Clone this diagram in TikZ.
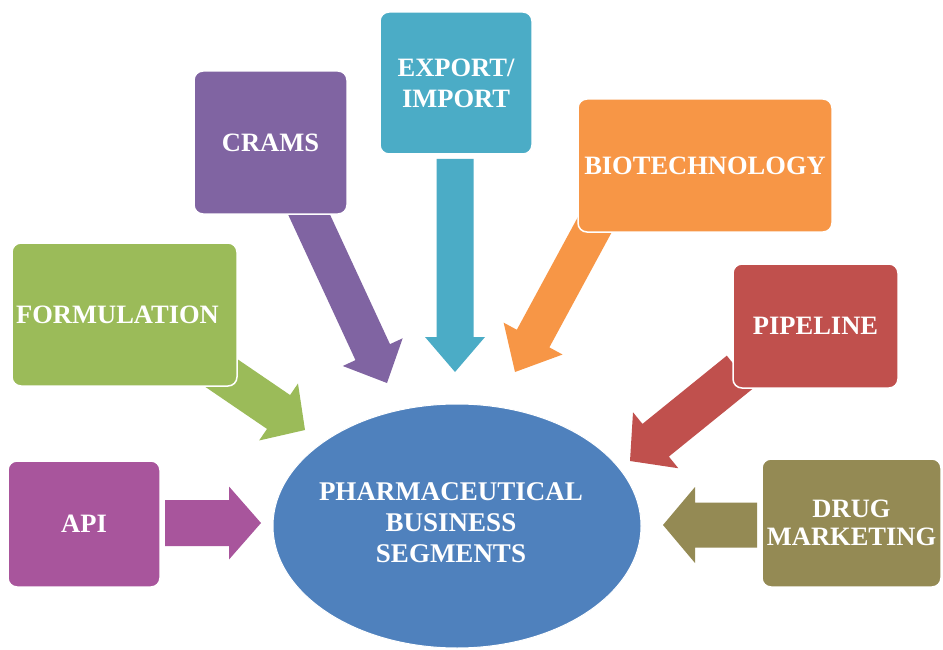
\documentclass[tikz,border=0pt]{standalone}
\usepackage{fontspec}
\setmainfont{Liberation Serif}
\usetikzlibrary{calc,shapes.geometric}
\definecolor{capi}{HTML}{A8559C}
\definecolor{cform}{HTML}{9BBB59}
\definecolor{ccrams}{HTML}{8064A2}
\definecolor{cexp}{HTML}{4BACC6}
\definecolor{cbio}{HTML}{F79646}
\definecolor{cpipe}{HTML}{C0504D}
\definecolor{cdrug}{HTML}{948A54}
\definecolor{chub}{HTML}{4F81BD}
% #1 tail, #2 tip, #3 shaft half width, #4 head half width, #5 head length, #6 colour
\newcommand\fatarrow[6]{%
  \coordinate (#1#2b) at ($(#2)!#5!(#1)$);
  \fill[#6] ($(#1)!#3!90:(#2)$) -- ($(#1#2b)!#3!90:(#2)$) -- ($(#1#2b)!#4!90:(#2)$)
    -- (#2) -- ($(#1#2b)!#4!-90:(#2)$) -- ($(#1#2b)!#3!-90:(#2)$)
    -- ($(#1)!#3!-90:(#2)$) -- cycle;}
\begin{document}
\begin{tikzpicture}[x=1pt,y=-1pt,
  box/.style={draw=white, line width=1.5pt, rounded corners=9pt, text=white,
    font=\fontsize{26.5}{31}\selectfont\bfseries, align=center, inner sep=0pt},
  hubtext/.style={text=white, font=\fontsize{27}{31}\selectfont\bfseries, align=center, inner sep=0pt}]
\useasboundingbox (0,0) rectangle (943,650);
\fill[white] (0,0) rectangle (943,650);

% central ellipse
\node[ellipse, fill=chub, draw=white, line width=1pt, minimum width=368pt,
  minimum height=244pt, inner sep=0pt] (hub) at (457,526) {};
\node[hubtext] (hubt) at (451,523) {PHARMACEUTICAL\\BUSINESS\\SEGMENTS};

% arrow end points
\coordinate (apiT) at (165,523);  \coordinate (apiH) at (261,523);
\coordinate (forT) at (214,368);  \coordinate (forH) at (305,430);
\coordinate (craT) at (300,195);  \coordinate (craH) at (387,383);
\coordinate (expT) at (455,159);  \coordinate (expH) at (455,372);
\coordinate (bioT) at (600,215);  \coordinate (bioH) at (515,372);
\coordinate (pipT) at (740,372);  \coordinate (pipH) at (630,461);
\coordinate (druT) at (757,525);  \coordinate (druH) at (663,525);

\fatarrow{apiT}{apiH}{23pt}{36.5pt}{32pt}{capi}
\fatarrow{forT}{forH}{20.5pt}{34.5pt}{32pt}{cform}
\fatarrow{craT}{craH}{19pt}{33pt}{34pt}{ccrams}
\fatarrow{expT}{expH}{18.5pt}{30pt}{35pt}{cexp}
\fatarrow{bioT}{bioH}{18.5pt}{33.5pt}{38pt}{cbio}
\fatarrow{pipT}{pipH}{21pt}{36pt}{33pt}{cpipe}
\fatarrow{druT}{druH}{22.5pt}{38pt}{32pt}{cdrug}

% boxes
\node[box, fill=capi, minimum width=152pt, minimum height=126pt] (api) at (84,524) {API};
\node[box, fill=cform, minimum width=225pt, minimum height=143pt] (form) at (124.5,314.5) {\kern-14pt FORMULATION};
\node[box, fill=ccrams, minimum width=153pt, minimum height=143pt] (crams) at (270.5,142.5) {CRAMS};
\node[box, fill=cexp, minimum width=152pt, minimum height=142pt] (exp) at (456,83) {EXPORT/\\IMPORT};
\node[box, fill=cbio, minimum width=254pt, minimum height=133pt] (bio) at (705,165.5) {BIOTECHNOLOGY};
\node[box, fill=cpipe, minimum width=165pt, minimum height=124pt] (pipe) at (815.5,326) {PIPELINE};
\node[box, fill=cdrug, minimum width=179pt, minimum height=128pt,
  font=\fontsize{26.5}{28}\selectfont\bfseries] (drug) at (851.5,523) {DRUG\\MARKETING};
\end{tikzpicture}
\end{document}
